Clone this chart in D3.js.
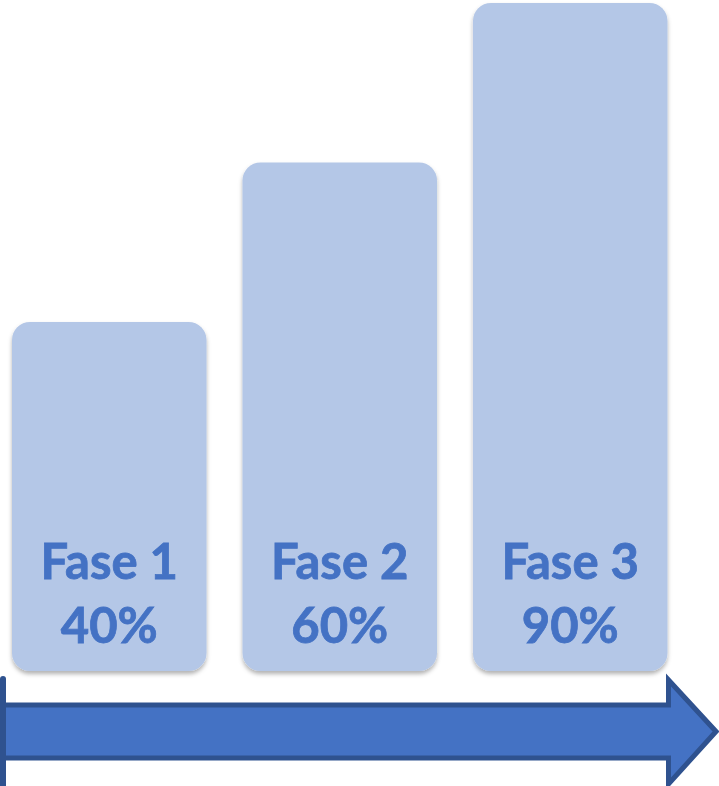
<!DOCTYPE html>
<html>
<head>
<meta charset="utf-8">
<script src="https://cdn.jsdelivr.net/npm/d3@7"></script>
<style>
  body { margin: 0; background: #fff; }
  svg { display: block; }
</style>
</head>
<body>
<script>
// Chart data
var phases = ["Fase 1", "Fase 2", "Fase 3"];
var percents = [40, 60, 90];

var canvas = {w: 719, h: 786},
    baseY = 671;   // bottom of the bars

var svg = d3.select("body").append("svg")
    .attr("width", canvas.w)
    .attr("height", canvas.h);

// soft shadow under the rounded bars
var defs = svg.append("defs");
defs.append("filter")
    .attr("id", "shadow")
    .attr("x", "-10%").attr("y", "-10%")
    .attr("width", "120%").attr("height", "120%")
  .append("feDropShadow")
    .attr("dx", 0).attr("dy", 3)
    .attr("stdDeviation", 2)
    .attr("flood-color", "#000")
    .attr("flood-opacity", 0.3);

var x = d3.scaleBand()
    .domain(phases)
    .range([12, 667.5])
    .paddingInner(0.156)
    .paddingOuter(0);

// bars step up evenly, so a log scale on the percentages
var y = d3.scaleLog()
    .domain([40, 90])
    .range([322, 3]);

var data = phases.map(function(p, i) { return {phase: p, pct: percents[i]}; });

var bar = svg.selectAll(".bar")
    .data(data)
    .enter().append("g")
    .attr("class", "bar");

bar.append("rect")
    .attr("x", function(d) { return x(d.phase); })
    .attr("y", function(d) { return y(d.pct); })
    .attr("width", x.bandwidth())
    .attr("height", function(d) { return baseY - y(d.pct); })
    .attr("rx", 18)
    .attr("fill", "#b4c7e7")
    .attr("filter", "url(#shadow)");

var label = bar.append("text")
    .attr("text-anchor", "middle")
    .attr("fill", "#4472c4")
    .style("font", "bold 49px Lato, 'Open Sans', sans-serif")
    .attr("stroke", "#4472c4")
    .attr("stroke-width", 0.8);

label.append("tspan")
    .attr("x", function(d) { return x(d.phase) + x.bandwidth() / 2; })
    .attr("y", baseY - 92)
    .text(function(d) { return d.phase; });

label.append("tspan")
    .attr("x", function(d) { return x(d.phase) + x.bandwidth() / 2; })
    .attr("y", baseY - 28)
    .text(function(d) { return d.pct + "%"; });

// big timeline arrow along the bottom
var shaftTop = 705, shaftBot = 758,
    headTop = 680, headBot = 784,
    headX = x.range()[1] + 1, tipX = 716;
var mid = (shaftTop + shaftBot) / 2;

svg.append("path")
    .attr("d", d3.line()([
        [-10, shaftTop], [headX, shaftTop], [headX, headTop],
        [tipX, mid], [headX, headBot], [headX, shaftBot], [-10, shaftBot]
    ]) + "Z")
    .attr("fill", "#4472c4")
    .attr("stroke", "#2f528f")
    .attr("stroke-width", 5)
    .attr("stroke-linejoin", "miter");

// cropped tail edge on the left
svg.append("line")
    .attr("x1", 3).attr("x2", 3)
    .attr("y1", 679).attr("y2", 800)
    .attr("stroke", "#2f528f")
    .attr("stroke-width", 6)
    .attr("stroke-linecap", "round");
</script>
</body>
</html>
